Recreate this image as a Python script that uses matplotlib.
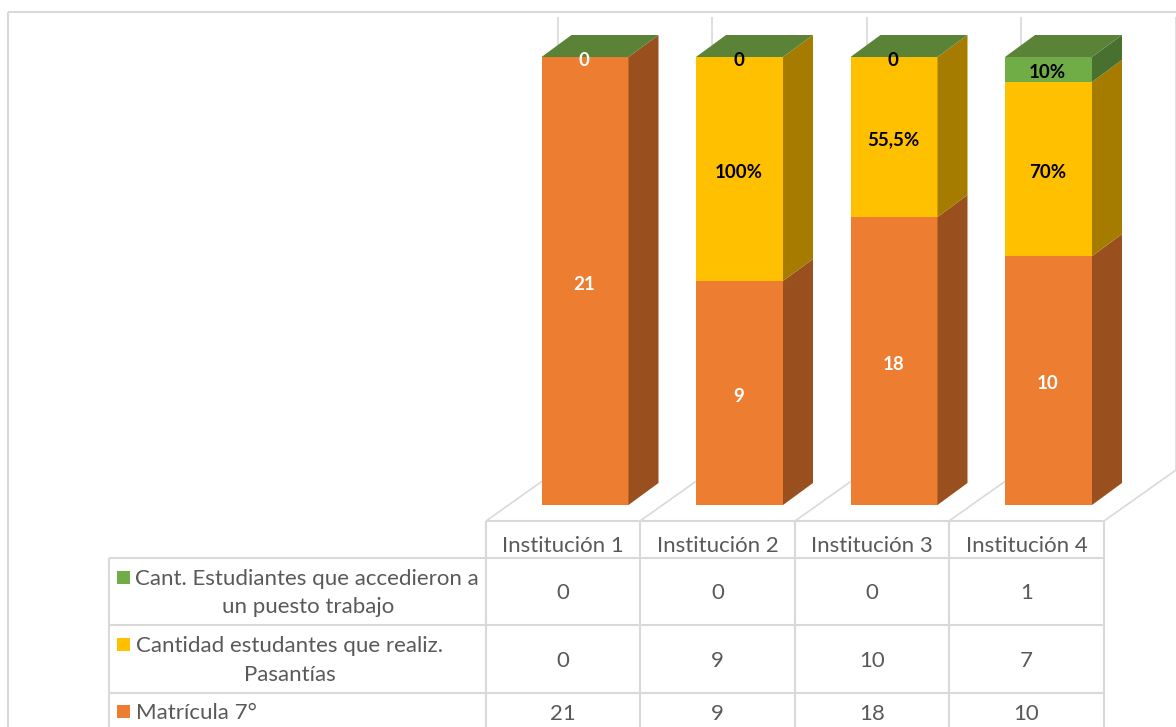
import numpy as np
import matplotlib
matplotlib.use("Agg")
import matplotlib.pyplot as plt
from matplotlib.patches import Polygon, Rectangle

plt.rcParams['font.family'] = ['Lato', 'DejaVu Sans']

# -------------------------
# Data
# -------------------------
institutions = ["Institución 1", "Institución 2", "Institución 3", "Institución 4"]
matricula = [21, 9, 18, 10]
pasantias = [0, 9, 10, 7]
puesto = [0, 0, 0, 1]

matricula_labels = ["21", "9", "18", "10"]
pasantias_labels = ["0", "100%", "55,5%", "70%"]
puesto_labels = ["", "0", "0", "10%"]

# Styles
ORANGE, ORANGE_SIDE = "#ED7D31", "#9A4F1E"
YELLOW, YELLOW_SIDE = "#FFC000", "#A67C00"
GREEN, GREEN_SIDE = "#70AD47", "#48702E"
TOP_FACE = "#5A8338"
LINE = "#D9D9D9"
GREY_TEXT = "#595959"
TABLE_FS = 16
LABEL_FS = 13.5

W, H = 1176, 727
fig = plt.figure(figsize=(W / 100, H / 100), dpi=100)

# pixel axes for frame, back grid and the data table
chrome = fig.add_axes([0, 0, 1, 1], zorder=0)
chrome.set_xlim(0, W)
chrome.set_ylim(H, 0)
chrome.axis("off")


def seg(x0, y0, x1, y1, lw=1.5):
    chrome.plot([x0, x1], [y0, y1], color=LINE, lw=lw, solid_capstyle="butt")


def cell_text(x, y, s, ha="center"):
    chrome.text(x, y, s, ha=ha, va="center", fontsize=TABLE_FS, color=GREY_TEXT)


# outer frame
seg(8, 12, W, 12)
seg(8, 12, 8, H)

# floor and back wall lines
col_edges = [486, 640, 795, 949, 1104]
for x in col_edges:
    seg(x, 521, x + 72, 470, lw=1.2)
    seg(x + 72, 470, x + 72, 17, lw=1.2)

# table grid
seg(486, 521, 1104, 521)
for y in [558, 625, 693]:
    seg(109, y, 1104, y)
seg(109, 558, 109, H)
for x in col_edges:
    seg(x, 521, x, H)

# table header and values
row_y = [591, 659, 712]
rows = [puesto, pasantias, matricula]
for i, name in enumerate(institutions):
    cx = (col_edges[i] + col_edges[i + 1]) / 2
    cell_text(cx, 546, name)
    for y, row in zip(row_y, rows):
        cell_text(cx, y + 2, str(row[i]))

# legend keys in the table
for y, c in zip([577, 644, 711], [GREEN, YELLOW, ORANGE]):
    chrome.add_patch(Rectangle((117, y - 6.5), 13, 13, color=c, lw=0))

cell_text(307, 579, "Cant. Estudiantes que accedieron a")
cell_text(308, 607, "un puesto trabajo")
cell_text(289, 646, "Cantidad estudantes que realiz.")
cell_text(290, 675, "Pasantías")
cell_text(136, 713, "Matrícula 7°", ha="left")

# -------------------------
# Bars, 100% stacked
# -------------------------
base_px, top_px = 505, 57
first_px, step_px = 585, 154.5
span_px = base_px - top_px

ax = fig.add_axes([0, (H - base_px) / H, 1, span_px / H], zorder=1)
ax.patch.set_alpha(0)
ax.axis("off")
ax.set_xlim(-first_px / step_px, (W - first_px) / step_px)
ax.set_ylim(0, 1)

bar_w = 87 / step_px
dx = 30 / step_px
dy = 22 / span_px

series = np.array([matricula, pasantias, puesto], dtype=float)
shares = series / series.sum(axis=0)
bottoms = np.vstack([np.zeros(4), np.cumsum(shares, axis=0)[:-1]])
pos = np.arange(len(institutions))

fronts = [ORANGE, YELLOW, GREEN]
sides = [ORANGE_SIDE, YELLOW_SIDE, GREEN_SIDE]
labels = [matricula_labels, pasantias_labels, puesto_labels]

for s in range(3):
    ax.bar(pos, shares[s], bar_w, bottom=bottoms[s], color=fronts[s], lw=0, clip_on=False, zorder=3)
    for i in pos:
        y0 = bottoms[s][i]
        y1 = y0 + shares[s][i]
        xr = i + bar_w / 2

        if shares[s][i] > 0:
            ax.add_patch(Polygon(
                [(xr, y0), (xr + dx, y0 + dy), (xr + dx, y1 + dy), (xr, y1)],
                closed=True, color=sides[s], lw=0, clip_on=False, zorder=3
            ))

        # zero shares put their label on the bar top
        text_y = (y0 + y1) / 2 - 3 / span_px
        if shares[s][i] == 0:
            text_y = 1 - 3 / span_px
        # text colour follows what sits under it, bar 1 is all orange
        color = "white" if s == 0 or i == 0 else "black"
        ax.text(i - 0.005, text_y, labels[s][i], ha="center", va="center", fontsize=LABEL_FS,
                fontweight="bold", color=color, zorder=5)

# top faces
for i in pos:
    xl, xr = i - bar_w / 2, i + bar_w / 2
    ax.add_patch(Polygon(
        [(xl, 1), (xr, 1), (xr + dx, 1 + dy), (xl + dx, 1 + dy)],
        closed=True, color=TOP_FACE, lw=0, clip_on=False, zorder=3
    ))

fig.savefig("out.png", dpi=100)
